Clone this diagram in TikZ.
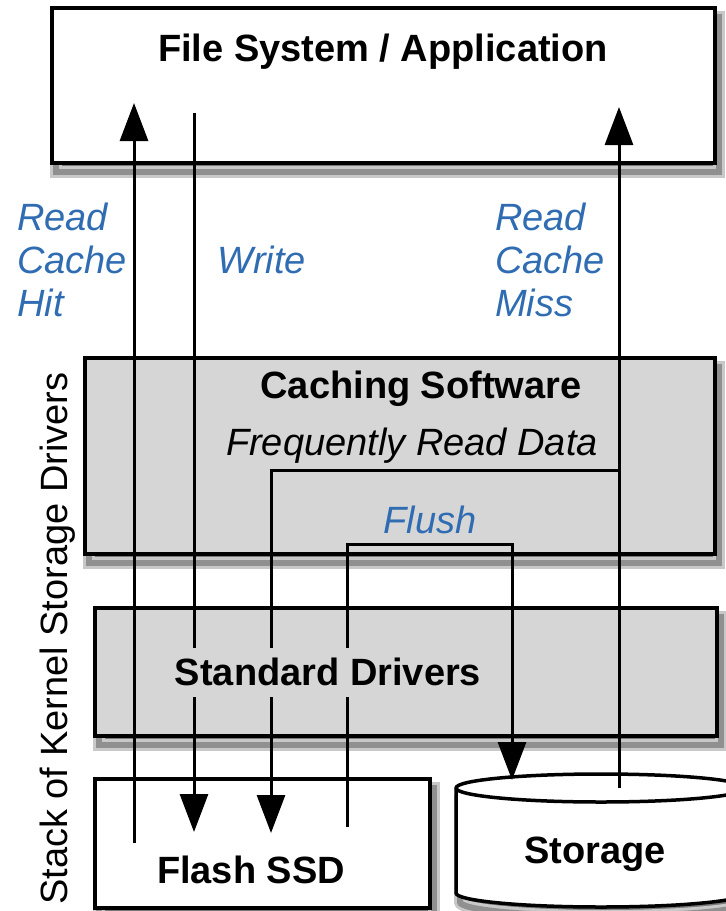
\documentclass[tikz,border=0pt]{standalone}
\usepackage{fontspec}
\setmainfont{Liberation Sans}
\usetikzlibrary{arrows.meta}
\definecolor{lblue}{RGB}{47,108,178}
\definecolor{boxgray}{RGB}{214,214,214}
\definecolor{shadowin}{RGB}{120,120,120}
\definecolor{shadowout}{RGB}{200,200,200}
\begin{document}
\begin{tikzpicture}[x=1pt,y=-1pt,
  every node/.style={font=\fontsize{38}{44}\selectfont, inner sep=0pt},
  shad/.style={preaction={draw=shadowout, line width=12pt, fill=shadowin, transform canvas={xshift=4pt, yshift=-9pt}},
               preaction={draw=shadowin!70!shadowout, line width=6pt, transform canvas={xshift=4pt, yshift=-9pt}}},
  frame/.style={draw=black, line width=3.5pt},
  whitebox/.style={shad, frame, fill=white, rectangle},
  graybox/.style={shad, frame, fill=boxgray, rectangle},
  title/.style={font=\fontsize{38}{44}\selectfont\bfseries, anchor=base},
  flow/.style={draw=black, line width=3pt},
  arr/.style={flow, -{Triangle[length=38pt,width=28pt]}},
  lab/.style={text=lblue, font=\fontsize{38}{44}\selectfont\itshape, anchor=base west}]
\useasboundingbox (0,0) rectangle (726,911);

% boxes
\node[whitebox, minimum width=663pt, minimum height=155pt] (fs) at (383.5,85.5) {};
\node[graybox, minimum width=630pt, minimum height=196pt] (cache) at (400,456) {};
\node[graybox, minimum width=622pt, minimum height=128pt] (std) at (406,672) {};
\node[whitebox, minimum width=335pt, minimum height=129pt] (ssd) at (262.5,843.5) {};
% storage cylinder
\path[shad, frame, fill=white] (456,788) -- (456,893)
  arc[start angle=180, end angle=0, x radius=145, y radius=14] -- (746,788)
  arc[start angle=0, end angle=-180, x radius=145, y radius=14] -- cycle;
\draw[line width=3.5pt] (456,788) arc[start angle=180, end angle=0, x radius=145, y radius=14];

% titles
\node[title] (fst) at (383,61) {File System / Application};
\node[title] (cst) at (421,398) {Caching Software};
\node[anchor=base, font=\fontsize{38}{44}\selectfont\itshape] (frd) at (412,455) {Frequently Read Data};
\node[title] (sdt) at (328,685) {Standard Drivers};
\node[title] (ssdt) at (251,883) {Flash SSD};
\node[title] (stt) at (595,863) {Storage};
\node[rotate=90, anchor=base west] (stack) at (67,905) {Stack of Kernel Storage Drivers};

% labels
\node[lab] (h1) at (17,230) {Read};
\node[lab] (h2) at (17,273) {Cache};
\node[lab] (h3) at (17,316) {Hit};
\node[lab] (wr) at (217,273) {Write};
\node[lab] (m1) at (495,230) {Read};
\node[lab] (m2) at (495,273) {Cache};
\node[lab] (m3) at (495,316) {Miss};
\node[text=lblue, font=\fontsize{38}{44}\selectfont\itshape, anchor=base] (fl) at (430,533) {Flush};

% connector end points
\coordinate (hitS) at (134,843);
\coordinate (hitE) at (134,103);
\coordinate (wrS) at (194,113);
\coordinate (wrA) at (194,648);
\coordinate (wrB) at (194,697);
\coordinate (wrE) at (194,832);
\coordinate (frJ) at (619,470);
\coordinate (frK) at (271,470);
\coordinate (frA) at (271,648);
\coordinate (frB) at (271,697);
\coordinate (frE) at (271,833);
\coordinate (flS) at (347,827);
\coordinate (flA) at (347,697);
\coordinate (flB) at (347,648);
\coordinate (flK) at (347,544);
\coordinate (flL) at (512,544);
\coordinate (flE) at (512,780);
\coordinate (msS) at (619,788);
\coordinate (msE) at (619,107);

% connectors
\draw[arr] (hitS) -- (hitE);
\draw[flow] (wrS) -- (wrA);
\draw[arr] (wrB) -- (wrE);
\draw[flow] (frJ) -- (frK) -- (frA);
\draw[arr] (frB) -- (frE);
\draw[flow] (flS) -- (flA);
\draw[arr] (flB) -- (flK) -- (flL) -- (flE);
\draw[arr] (msS) -- (msE);
\end{tikzpicture}
\end{document}
